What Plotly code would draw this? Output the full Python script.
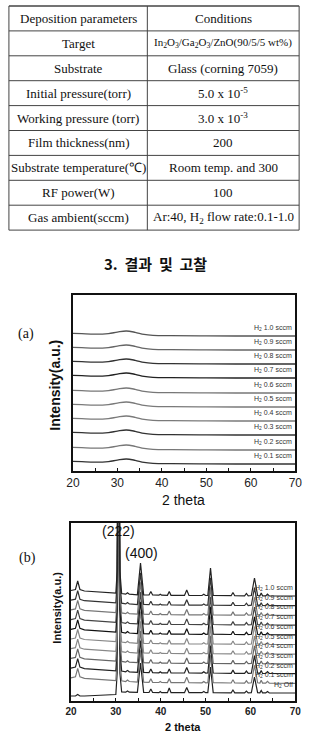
import plotly.graph_objects as go

W, H = 309, 734

# ---------------- data ----------------
table_params = ["Deposition parameters", "Target", "Substrate", "Initial pressure(torr)",
                "Working pressure (torr)", "Film thickness(nm)", "Substrate temperature(\u2103)",
                "RF power(W)", "Gas ambient(sccm)"]
table_conditions = ["Conditions",
                    "In<sub>2</sub>O<sub>3</sub>/Ga<sub>2</sub>O<sub>3</sub>/ZnO(90/5/5 wt%)",
                    "Glass (corning 7059)", "5.0 x 10<sup>-5</sup>", "3.0 x 10<sup>-3</sup>",
                    "200", "Room temp. and 300", "100",
                    "Ar:40, H<sub>2</sub> flow rate:0.1-1.0"]
heading = "3.  \uacb0\uacfc  \ubc0f  \uace0\ucc30"

# chart (a): amorphous films, stacked patterns (bottom -> top)
flows_a = ["0.1", "0.2", "0.3", "0.4", "0.5", "0.6", "0.7", "0.8", "0.9", "1.0"]
offsets_a = [7, 21, 36, 50, 64, 78, 93, 107, 121, 135]
colors_a = ["#333333", "#777777", "#333333", "#7a7a7a", "#7a7a7a", "#777777",
            "#222222", "#333333", "#666666", "#555555"]
profile_a_x = [20, 22, 25, 28, 30, 32, 34, 36, 38, 42, 50, 60, 70]
profile_a_y = [2.7, 2.3, 1.8, 2.4, 3.9, 5.0, 3.7, 1.6, 0.7, 0.3, 0.1, 0.0, 0.0]

# chart (b): crystalline films, stacked patterns (bottom -> top)
flows_b = ["Off", "0.1", "0.2", "0.3", "0.4", "0.5", "0.6", "0.7", "0.8", "0.9", "1.0"]
offsets_b = [8, 17.7, 27.4, 37.1, 46.8, 56.5, 66.2, 75.9, 85.6, 95.3, 105]
colors_b = ["#222222", "#777777", "#222222", "#666666", "#888888", "#888888",
            "#111111", "#444444", "#777777", "#333333", "#222222"]
profile_b_x = [20, 21.0, 21.5, 22.0, 23.0, 26.0, 30.0, 30.3, 30.6, 30.9, 31.3, 32.2, 32.6,
               33.0, 34.8, 35.5, 36.2, 37.4, 37.8, 38.2, 39.6, 39.9, 40.2, 41.5, 41.9, 42.3,
               45.3, 45.8, 46.3, 49.2, 49.6, 50.0, 50.5, 51.1, 51.7, 55.7, 56.1, 56.5, 58.7,
               59.1, 59.5, 60.2, 60.9, 61.6, 62.1, 62.4, 62.7, 63.4, 63.8, 64.2, 70]
profile_b_y = [5.5, 6.5, 15, 6.5, 5.0, 4.0, 2.8, 25, 300, 25, 2.5, 1.8, 3.2,
               1.8, 1.2, 33, 1.2, 1.0, 4.5, 1.0, 0.8, 1.8, 0.8, 0.7, 4.5, 0.7,
               0.6, 6.0, 0.6, 0.5, 1.8, 0.5, 0.6, 28, 0.6, 0.3, 3.5, 0.3, 0.2,
               2.5, 0.2, 0.5, 18, 0.5, 0.2, 3.0, 0.2, 0.1, 2.0, 0.1, 0.0]
profile_off_y = [-3.0, -3.0, -1.5, -3.0, -3.0, -2.5, -1.5, 20, 300, 20, 1.0, 0.8, 2.0,
                 0.8, 0.6, 30, 0.6, 0.5, 4.0, 0.5, 0.4, 1.5, 0.4, 0.4, 5.0, 0.4,
                 0.3, 5.5, 0.3, 0.3, 1.5, 0.3, 0.4, 26, 0.4, 0.2, 3.0, 0.2, 0.2,
                 2.0, 0.2, 0.4, 16, 0.4, 0.2, 2.5, 0.2, 0.1, 1.5, 0.1, 0.0]

x_ticks = [20, 30, 40, 50, 60, 70]

SERIF = "Liberation Serif, Times New Roman, serif"
SANS = "Liberation Sans, Arial, sans-serif"

# ---------------- layout helpers ----------------
def fx(px):
    return px / W

def fy(py):
    return 1 - py / H

A_L, A_R, A_T, A_B = 69, 302, 295, 471
B_L, B_R, B_T, B_B = 67, 302, 523, 701

fig = go.Figure()

for i, f in enumerate(flows_a):
    fig.add_trace(go.Scatter(
        x=profile_a_x, y=[offsets_a[i] + v for v in profile_a_y],
        mode="lines", line=dict(color=colors_a[i], width=1.3, shape="spline", smoothing=1.0),
        xaxis="x", yaxis="y", showlegend=False, hoverinfo="skip"))

for i, f in enumerate(flows_b):
    prof = profile_off_y if f == "Off" else profile_b_y
    fig.add_trace(go.Scatter(
        x=profile_b_x, y=[offsets_b[i] + v for v in prof],
        mode="lines", line=dict(color=colors_b[i], width=1.2),
        xaxis="x2", yaxis="y2", showlegend=False, hoverinfo="skip"))

shapes = []
annotations = []

# ---------------- table ----------------
T_TOP, ROW_H = 6, 24.9
T_L, T_M, T_R = 2, 147, 306
n_rows = len(table_params)
for k in range(n_rows + 1):
    yy = T_TOP + ROW_H * k
    shapes.append(dict(type="line", xref="paper", yref="paper",
                       x0=fx(T_L), x1=fx(T_R), y0=fy(yy), y1=fy(yy),
                       line=dict(color="#444444", width=1.6 if k == 0 else 1)))
for xv in (T_L, T_M, T_R):
    shapes.append(dict(type="line", xref="paper", yref="paper",
                       x0=fx(xv), x1=fx(xv), y0=fy(T_TOP), y1=fy(T_TOP + ROW_H * n_rows),
                       line=dict(color="#444444", width=1)))
for k in range(n_rows):
    yc = T_TOP + ROW_H * (k + 0.5)
    annotations.append(dict(text=table_params[k], xref="paper", yref="paper",
                            x=fx((T_L + T_M) / 2), y=fy(yc), showarrow=False,
                            xanchor="center", yanchor="middle",
                            font=dict(family=SERIF, size=13, color="#111111")))
    annotations.append(dict(text=table_conditions[k], xref="paper", yref="paper",
                            x=fx((T_M + T_R) / 2), y=fy(yc), showarrow=False,
                            xanchor="center", yanchor="middle",
                            font=dict(family=SERIF, size=11 if k == 1 else 13, color="#111111")))

annotations.append(dict(text="<b>" + heading + "</b>", xref="paper", yref="paper",
                        x=fx(156), y=fy(263), showarrow=False, xanchor="center", yanchor="middle",
                        font=dict(family="Noto Sans CJK KR", size=15, color="#111111")))

# ---------------- chart (a) annotations ----------------
annotations.append(dict(text="(a)", xref="paper", yref="paper", x=fx(20), y=fy(334),
                        showarrow=False, xanchor="center", yanchor="middle",
                        font=dict(family=SERIF, size=14, color="#111111")))
annotations.append(dict(text="<b>Intensity(a.u.)</b>", xref="paper", yref="paper",
                        x=fx(50), y=fy(385), showarrow=False, textangle=-90,
                        xanchor="center", yanchor="middle",
                        font=dict(family=SANS, size=14, color="#111111")))
annotations.append(dict(text="2 theta", xref="paper", yref="paper", x=fx(185), y=fy(500),
                        showarrow=False, xanchor="center", yanchor="middle",
                        font=dict(family=SANS, size=14, color="#111111")))
for i, f in enumerate(flows_a):
    annotations.append(dict(text="H<sub>2</sub> " + f + " sccm", xref="x", yref="y",
                            x=69.6, y=offsets_a[i] + 8, showarrow=False,
                            xanchor="right", yanchor="middle",
                            font=dict(family=SANS, size=7, color="#333333")))

# ---------------- chart (b) annotations ----------------
annotations.append(dict(text="(b)", xref="paper", yref="paper", x=fx(21), y=fy(558),
                        showarrow=False, xanchor="center", yanchor="middle",
                        font=dict(family=SERIF, size=14, color="#111111")))
annotations.append(dict(text="<b>Intensity(a.u.)</b>", xref="paper", yref="paper",
                        x=fx(52), y=fy(608), showarrow=False, textangle=-90,
                        xanchor="center", yanchor="middle",
                        font=dict(family=SANS, size=11, color="#111111")))
annotations.append(dict(text="<b>2 theta</b>", xref="paper", yref="paper", x=fx(184), y=fy(727),
                        showarrow=False, xanchor="center", yanchor="middle",
                        font=dict(family=SANS, size=11, color="#111111")))
annotations.append(dict(text="(222)", xref="x2", yref="y2", x=30.6, y=170, showarrow=False,
                        xanchor="center", yanchor="middle",
                        font=dict(family=SANS, size=14, color="#111111")))
annotations.append(dict(text="(400)", xref="x2", yref="y2", x=35.8, y=148, showarrow=False,
                        xanchor="center", yanchor="middle",
                        font=dict(family=SANS, size=14, color="#111111")))
for i, f in enumerate(flows_b):
    label = "H<sub>2</sub> Off" if f == "Off" else "H<sub>2</sub> " + f + " sccm"
    annotations.append(dict(text=label, xref="x2", yref="y2",
                            x=70, y=offsets_b[i] + 8, showarrow=False,
                            xanchor="right", yanchor="middle",
                            font=dict(family=SANS, size=7, color="#333333")))

axis_common = dict(showline=True, linecolor="#111111", mirror=True, showgrid=False,
                   zeroline=False)

fig.update_layout(
    width=W, height=H, margin=dict(l=0, r=0, t=0, b=0),
    paper_bgcolor="white", plot_bgcolor="white",
    shapes=shapes, annotations=annotations,
    xaxis=dict(domain=[fx(A_L), fx(A_R)], range=[20, 70], anchor="y",
               tickvals=x_ticks, ticks="inside", ticklen=3, tickcolor="#111111",
               minor=dict(dtick=5, ticks="inside", ticklen=3, tickcolor="#111111"),
               tickfont=dict(family=SANS, size=12, color="#222222"),
               linewidth=1.5, **axis_common),
    yaxis=dict(domain=[fy(A_B), fy(A_T)], range=[0, A_B - A_T], anchor="x",
               showticklabels=False, ticks="", linewidth=1.5, **axis_common),
    xaxis2=dict(domain=[fx(B_L), fx(B_R)], range=[20, 70], anchor="y2",
                tickvals=x_ticks, ticks="inside", ticklen=3, tickcolor="#111111",
                minor=dict(dtick=5, ticks="inside", ticklen=3, tickcolor="#111111"),
                tickfont=dict(family=SANS, size=10, color="#222222", weight="bold"),
                linewidth=1.5, **axis_common),
    yaxis2=dict(domain=[fy(B_B), fy(B_T)], range=[0, B_B - B_T], anchor="x2",
                showticklabels=False, ticks="", linewidth=1.5, **axis_common),
)

fig.write_html("out.html")
